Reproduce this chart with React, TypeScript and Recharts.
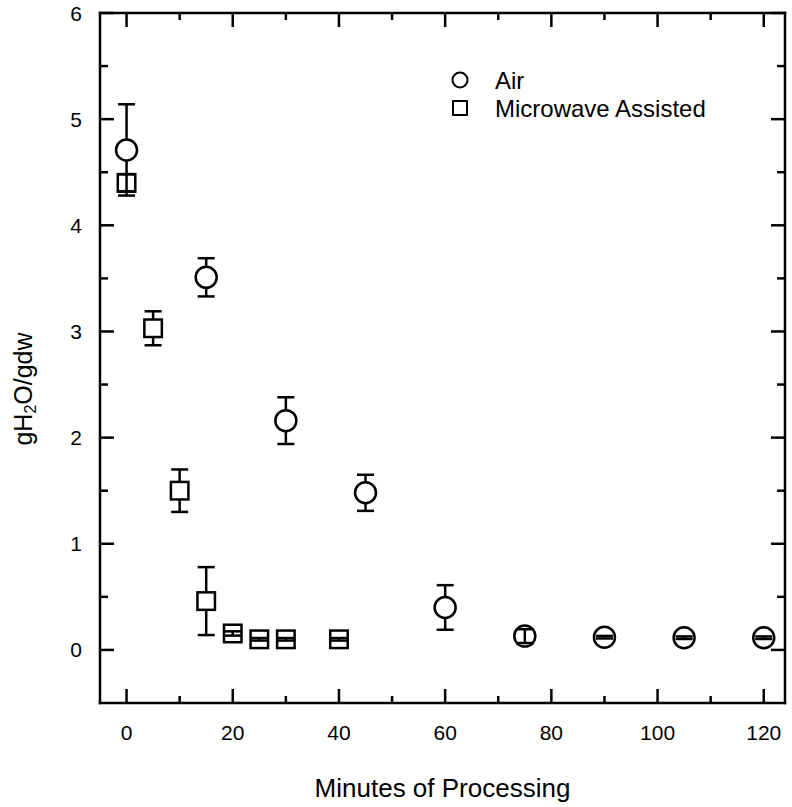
import React from 'react';
import { ScatterChart, Scatter, XAxis, YAxis, ErrorBar, Legend, Label } from 'recharts';

// ---- data ----
const airMinutes = [0, 15, 30, 45, 60, 75, 90, 105, 120];
const airValues = [4.71, 3.51, 2.16, 1.48, 0.4, 0.13, 0.12, 0.115, 0.115];
const airErrors = [0.43, 0.18, 0.22, 0.17, 0.21, 0.065, 0.012, 0.012, 0.012];

const mwMinutes = [0, 5, 10, 15, 20, 25, 30, 40];
const mwValues = [4.4, 3.03, 1.5, 0.46, 0.155, 0.1, 0.1, 0.1];
const mwErrors = [0.08, 0.16, 0.2, 0.32, 0.02, 0.012, 0.012, 0.012];

const xTicks = [0, 10, 20, 30, 40, 50, 60, 70, 80, 90, 100, 110, 120];
const yTicks = [0, 0.5, 1, 1.5, 2, 2.5, 3, 3.5, 4, 4.5, 5, 5.5, 6];
const xDomain: [number, number] = [-5, 124];
const yDomain: [number, number] = [-0.5, 6];

const INNER = 0.09; // errors smaller than this are drawn over the marker

const build = (xs: number[], ys: number[], es: number[]) =>
  xs.map((x, i) => ({ x, y: ys[i], err: es[i], errInner: es[i] < INNER ? es[i] : 0 }));

const airData = build(airMinutes, airValues, airErrors);
const mwData = build(mwMinutes, mwValues, mwErrors);

const FONT = '"Liberation Sans", Arial, Helvetica, sans-serif';
const SW = 2.5;

const isMajorX = (v: number) => v % 20 === 0;
const isMajorY = (v: number) => Number.isInteger(v);

const BottomTick = (p: any) => {
  const { x, y, payload } = p;
  const v = payload.value;
  const major = isMajorX(v);
  return (
    <g>
      <line x1={x} y1={y} x2={x} y2={y - (major ? 14 : 7)} stroke="#000" strokeWidth={SW} />
      {major && (
        <text x={x} y={y + 37} textAnchor="middle" fontSize={21} fontFamily={FONT} fill="#000">
          {v}
        </text>
      )}
    </g>
  );
};

const TopTick = (p: any) => {
  const { x, y, payload } = p;
  const major = isMajorX(payload.value);
  return <line x1={x} y1={y} x2={x} y2={y + (major ? 14 : 7)} stroke="#000" strokeWidth={SW} />;
};

const LeftTick = (p: any) => {
  const { x, y, payload } = p;
  const v = payload.value;
  const major = isMajorY(v);
  return (
    <g>
      <line x1={x} y1={y} x2={x + (major ? 14 : 8)} y2={y} stroke="#000" strokeWidth={SW} />
      {major && (
        <text x={x - 18} y={y + 7.5} textAnchor="end" fontSize={21} fontFamily={FONT} fill="#000">
          {v}
        </text>
      )}
    </g>
  );
};

const RightTick = (p: any) => {
  const { x, y, payload } = p;
  const major = isMajorY(payload.value);
  return <line x1={x} y1={y} x2={x - (major ? 14 : 8)} y2={y} stroke="#000" strokeWidth={SW} />;
};

const XTitle = (p: any) => {
  const vb = p.viewBox || { x: 100, y: 703, width: 685, height: 104 };
  return (
    <text x={vb.x + vb.width / 2} y={vb.y + 94} textAnchor="middle" fontSize={26} fontFamily={FONT} fill="#000">
      Minutes of Processing
    </text>
  );
};

const YTitle = (p: any) => {
  const vb = p.viewBox || { x: 0, y: 13, width: 100, height: 690 };
  const cx = vb.x + 23;
  const cy = vb.y + vb.height / 2 + 31;
  return (
    <text
      x={cx}
      y={cy}
      transform={`rotate(-90 ${cx} ${cy})`}
      textAnchor="middle"
      dominantBaseline="central"
      fontSize={25}
      fontFamily={FONT}
      fill="#000"
    >
      gH
      <tspan dy={7} fontSize={16}>2</tspan>
      <tspan dy={-7}>O/gdw</tspan>
    </text>
  );
};

const CircleShape = (p: any) => (
  <circle cx={p.cx} cy={p.cy} r={10.5} fill="#fff" stroke="#000" strokeWidth={SW} />
);
const SquareShape = (p: any) => (
  <rect x={p.cx - 8.75} y={p.cy - 8.75} width={17.5} height={17.5} fill="#fff" stroke="#000" strokeWidth={SW} />
);
const NoShape = () => <g />;

const LegendContent = (props: any) => {
  const items = (props.payload || []).filter(
    (it: any) => it.value === 'Air' || it.value === 'Microwave Assisted'
  );
  return (
    <svg width={300} height={70} style={{ display: 'block' }}>
      {items.map((it: any, i: number) => {
        const cy = 20 + i * 28;
        return (
          <g key={it.value}>
            {it.value === 'Air' ? (
              <circle cx={20} cy={cy} r={7.5} fill="#fff" stroke="#000" strokeWidth={2} />
            ) : (
              <rect x={13} y={cy - 7} width={14} height={14} fill="#fff" stroke="#000" strokeWidth={2} />
            )}
            <text x={55} y={cy + 8.5} fontSize={24} fontFamily={FONT} fill="#000">
              {it.value}
            </text>
          </g>
        );
      })}
    </svg>
  );
};

export default function App() {
  const axisLine = { stroke: '#000', strokeWidth: SW, strokeLinecap: 'square' as const };
  const innerBarProps: any = { zIndex: 1000 };
  return (
    <div style={{ position: 'absolute', left: 0, top: 0, width: 792, height: 807, background: '#fff' }}>
      <ScatterChart width={792} height={807} margin={{ top: 12, right: 6, bottom: 0, left: 0 }}>
        <XAxis
          xAxisId={0}
          type="number"
          dataKey="x"
          domain={xDomain}
          ticks={xTicks}
          interval={0}
          allowDataOverflow
          height={104}
          tickSize={0}
          tickMargin={0}
          tickLine={false}
          axisLine={axisLine}
          tick={BottomTick}
        >
          <Label content={XTitle} />
        </XAxis>
        <XAxis
          xAxisId="top"
          orientation="top"
          type="number"
          dataKey="x"
          domain={xDomain}
          ticks={xTicks}
          interval={0}
          allowDataOverflow
          height={1}
          tickSize={0}
          tickMargin={0}
          tickLine={false}
          axisLine={axisLine}
          tick={TopTick}
        />
        <YAxis
          yAxisId={0}
          type="number"
          dataKey="y"
          domain={yDomain}
          ticks={yTicks}
          interval={0}
          allowDataOverflow
          width={100}
          tickSize={0}
          tickMargin={0}
          tickLine={false}
          axisLine={axisLine}
          tick={LeftTick}
        >
          <Label content={YTitle} />
        </YAxis>
        <YAxis
          yAxisId="right"
          orientation="right"
          type="number"
          dataKey="y"
          domain={yDomain}
          ticks={yTicks}
          interval={0}
          allowDataOverflow
          width={1}
          tickSize={0}
          tickMargin={0}
          tickLine={false}
          axisLine={axisLine}
          tick={RightTick}
        />
        <Legend
          layout="vertical"
          align="center"
          verticalAlign="middle"
          content={LegendContent}
          wrapperStyle={{ left: 440, top: 60, width: 300, height: 70 }}
        />
        <Scatter name="Air" data={airData} shape={CircleShape} isAnimationActive={false}>
          <ErrorBar dataKey="err" direction="y" width={8.5} stroke="#000" strokeWidth={SW} isAnimationActive={false} />
        </Scatter>
        <Scatter name="Microwave Assisted" data={mwData} shape={SquareShape} isAnimationActive={false}>
          <ErrorBar dataKey="err" direction="y" width={8.5} stroke="#000" strokeWidth={SW} isAnimationActive={false} />
        </Scatter>
        <Scatter name="air-inner" data={airData} shape={NoShape} legendType="none" isAnimationActive={false} {...innerBarProps}>
          <ErrorBar dataKey="errInner" direction="y" width={8.5} stroke="#000" strokeWidth={SW} isAnimationActive={false} {...innerBarProps} />
        </Scatter>
        <Scatter name="mw-inner" data={mwData} shape={NoShape} legendType="none" isAnimationActive={false} {...innerBarProps}>
          <ErrorBar dataKey="errInner" direction="y" width={8.5} stroke="#000" strokeWidth={SW} isAnimationActive={false} {...innerBarProps} />
        </Scatter>
      </ScatterChart>
    </div>
  );
}
